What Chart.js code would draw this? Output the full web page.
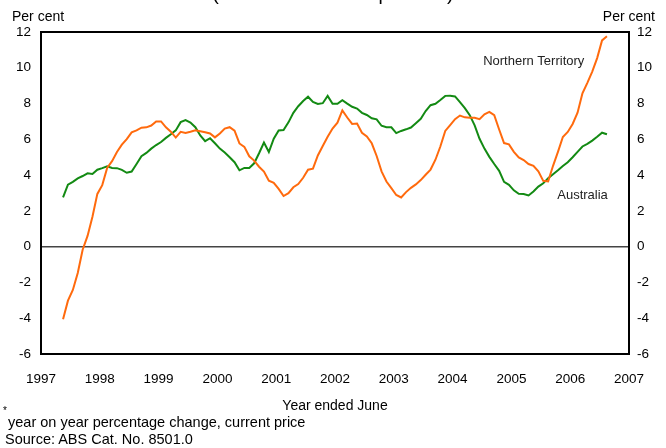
<!DOCTYPE html>
<html>
<head>
<meta charset="utf-8">
<script src="https://cdn.jsdelivr.net/npm/chart.js@4.4.1/dist/chart.umd.min.js"></script>
<style>
  body { margin: 0; background: #fff; font-family: "Liberation Sans", Arial, sans-serif; }
  #wrap { position: relative; width: 666px; height: 448px; overflow: hidden; }
  #grafico { position: absolute; left: 0; top: 0; }
  .txt { position: absolute; color: #000; white-space: nowrap; }
</style>
</head>
<body>
<div id="wrap">
  <canvas id="grafico" width="666" height="448"></canvas>
  <div class="txt" style="left:0;width:666px;text-align:center;top:-17px;font-size:19px;">(trend estimates — per cent)</div>
  <div class="txt" style="left:12px;top:8px;font-size:14px;">Per cent</div>
  <div class="txt" style="right:11px;top:8px;font-size:14px;">Per cent</div>
  <div class="txt" style="left:3px;top:405px;font-size:10px;">*</div>
  <div class="txt" style="left:8px;top:414px;font-size:14.5px;">year on year percentage change, current price</div>
  <div class="txt" style="left:5px;top:431px;font-size:14.5px;">Source: ABS Cat. No. 8501.0</div>
</div>
<script>
// Meses: primeiro ponto em 1997.375, passo mensal
var inicio = 1997.375;

// Northern Territory (laranja)
var valoresNT = [
  -4.06, -3.02, -2.42, -1.47, -0.17, 0.60, 1.67, 2.95, 3.44, 4.40,
  4.78, 5.29, 5.70, 6.01, 6.39, 6.50, 6.65, 6.67, 6.77, 7.00,
  7.00, 6.67, 6.43, 6.10, 6.42, 6.35, 6.42, 6.50, 6.45, 6.40,
  6.33, 6.11, 6.33, 6.60, 6.68, 6.48, 5.77, 5.58, 5.05, 4.81,
  4.47, 4.20, 3.69, 3.57, 3.23, 2.83, 2.99, 3.32, 3.50, 3.85,
  4.30, 4.36, 5.10, 5.63, 6.14, 6.60, 6.93, 7.62, 7.22, 6.86,
  6.88, 6.37, 6.16, 5.78, 5.07, 4.21, 3.64, 3.27, 2.89, 2.75,
  3.05, 3.29, 3.48, 3.72, 4.02, 4.31, 4.86, 5.60, 6.47, 6.80,
  7.13, 7.33, 7.23, 7.21, 7.21, 7.13, 7.40, 7.53, 7.35, 6.55,
  5.79, 5.72, 5.30, 4.99, 4.84, 4.62, 4.52, 4.21, 3.68, 3.65,
  4.52, 5.30, 6.13, 6.41, 6.86, 7.49, 8.57, 9.16, 9.79, 10.54,
  11.53, 11.76
];

// Australia (verde)
var valoresAus = [
  2.76, 3.47, 3.62, 3.82, 3.95, 4.10, 4.06, 4.30, 4.39, 4.49,
  4.40, 4.39, 4.29, 4.13, 4.20, 4.62, 5.06, 5.24, 5.48, 5.68,
  5.85, 6.08, 6.28, 6.50, 6.96, 7.07, 6.94, 6.68, 6.22, 5.90,
  6.06, 5.78, 5.48, 5.26, 5.00, 4.72, 4.27, 4.40, 4.40, 4.66,
  5.22, 5.82, 5.29, 6.04, 6.50, 6.52, 6.95, 7.48, 7.85, 8.14,
  8.38, 8.09, 7.98, 8.02, 8.43, 7.99, 7.99, 8.19, 8.00, 7.82,
  7.72, 7.48, 7.36, 7.18, 7.12, 6.76, 6.68, 6.67, 6.35, 6.47,
  6.56, 6.66, 6.90, 7.15, 7.58, 7.91, 7.99, 8.20, 8.43, 8.44,
  8.40, 8.08, 7.74, 7.35, 6.78, 6.03, 5.48, 5.02, 4.62, 4.24,
  3.62, 3.46, 3.15, 2.96, 2.94, 2.86, 3.08, 3.36, 3.54, 3.83,
  4.05, 4.27, 4.51, 4.72, 5.00, 5.30, 5.60, 5.75, 5.93, 6.14,
  6.37, 6.28
];

var anos = [1997, 2007];
var eixoY = [-6, 12];
var rotulos = [
  { texto: 'Northern Territory', x: 2004.52, y: 10.37 },
  { texto: 'Australia', x: 2005.78, y: 2.89 }
];

function pontos(valores) {
  return valores.map(function (v, i) {
    return { x: inicio + i / 12, y: v };
  });
}

// moldura, linha do zero e rótulos das séries
var extras = {
  id: 'extras',
  beforeDatasetsDraw: function (chart) {
    var ctx = chart.ctx, a = chart.chartArea;
    var y0 = chart.scales.y.getPixelForValue(0);
    ctx.save();
    ctx.strokeStyle = '#444';
    ctx.lineWidth = 1.5;
    ctx.beginPath();
    ctx.moveTo(a.left, y0);
    ctx.lineTo(a.right, y0);
    ctx.stroke();
    ctx.restore();
  },
  afterDraw: function (chart) {
    var ctx = chart.ctx, a = chart.chartArea;
    ctx.save();
    ctx.strokeStyle = '#000';
    ctx.lineWidth = 2;
    ctx.strokeRect(a.left, a.top, a.right - a.left, a.bottom - a.top);
    ctx.fillStyle = '#222';
    ctx.font = '13px "Liberation Sans", Arial, sans-serif';
    ctx.textBaseline = 'middle';
    rotulos.forEach(function (r) {
      ctx.fillText(r.texto, chart.scales.x.getPixelForValue(r.x), chart.scales.y.getPixelForValue(r.y));
    });
    ctx.restore();
  }
};

var fonteTicks = { family: '"Liberation Sans", Arial, sans-serif', size: 13.5 };

new Chart(document.getElementById('grafico').getContext('2d'), {
  type: 'line',
  data: {
    datasets: [{
      label: 'Northern Territory',
      data: pontos(valoresNT),
      borderColor: '#ff6a0d',
      borderWidth: 2,
      pointRadius: 0,
      tension: 0
    }, {
      label: 'Australia',
      data: pontos(valoresAus),
      borderColor: '#138a13',
      borderWidth: 2,
      pointRadius: 0,
      tension: 0
    }]
  },
  options: {
    responsive: false,
    animation: false,
    layout: { padding: { left: 0, right: 0, top: 32, bottom: 33 } },
    plugins: { legend: { display: false }, tooltip: { enabled: false } },
    scales: {
      x: {
        type: 'linear',
        min: anos[0],
        max: anos[1],
        grid: { display: false, drawTicks: false },
        border: { display: false },
        ticks: {
          stepSize: 1,
          padding: 17,
          color: '#000',
          font: fonteTicks,
          maxRotation: 0,
          callback: function (v) { return String(v); }
        },
        title: {
          display: true,
          text: 'Year ended June',
          color: '#000',
          font: { family: '"Liberation Sans", Arial, sans-serif', size: 14 },
          padding: 0
        },
        afterFit: function (s) { s.height = 61; }
      },
      y: {
        position: 'left',
        min: eixoY[0],
        max: eixoY[1],
        grid: { display: false, drawTicks: false },
        border: { display: false },
        ticks: { stepSize: 2, padding: 10, color: '#000', font: fonteTicks },
        afterFit: function (s) { s.width = 41; }
      },
      y2: {
        position: 'right',
        min: eixoY[0],
        max: eixoY[1],
        grid: { display: false, drawTicks: false },
        border: { display: false },
        ticks: { stepSize: 2, padding: 8, color: '#000', font: fonteTicks },
        afterFit: function (s) { s.width = 37; }
      }
    }
  },
  plugins: [extras]
});
</script>
</body>
</html>
